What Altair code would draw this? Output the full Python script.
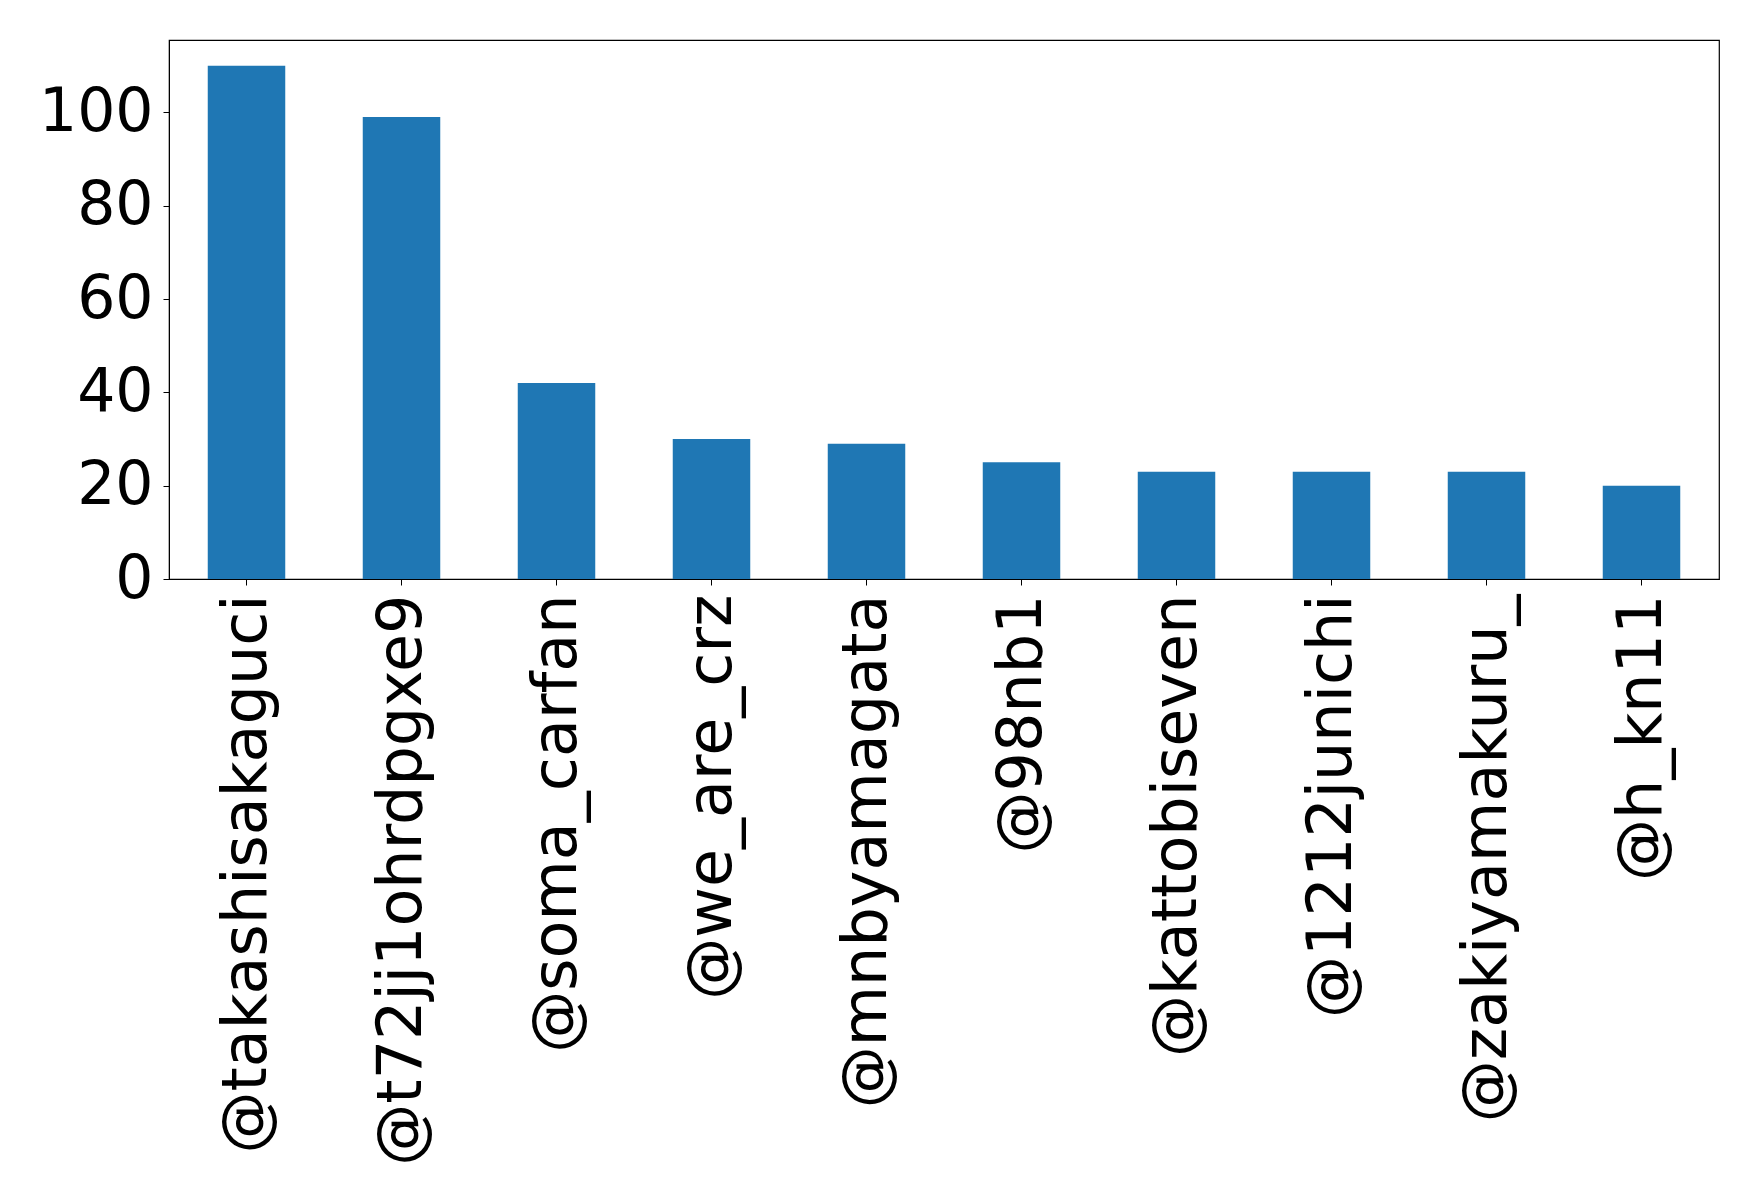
import altair as alt
import pandas as pd

# Accounts and their counts
accounts = [
    "@takashisakaguci", "@t72jj1ohrdpgxe9", "@soma_carfan", "@we_are_crz",
    "@mnbyamagata", "@98nb1", "@kattobiseven", "@1212junichi",
    "@zakiyamakuru_", "@h_kn11",
]
counts = [110, 99, 42, 30, 29, 25, 23, 23, 23, 20]
y_ticks = [0, 20, 40, 60, 80, 100]

df = pd.DataFrame({"account": accounts, "count": counts})

FONT = "DejaVu Sans"

chart = (
    alt.Chart(df)
    .mark_bar(color="#1f77b4")
    .encode(
        x=alt.X(
            "account:N",
            sort=accounts,
            title=None,
            scale=alt.Scale(paddingInner=0.5, paddingOuter=0.25),
            axis=alt.Axis(
                labelAngle=-90,
                labelFont=FONT,
                labelFontSize=62,
                labelColor="black",
                labelPadding=9,
                tickSize=6,
                tickColor="black",
                domainColor="black",
                labelLimit=0,
            ),
        ),
        y=alt.Y(
            "count:Q",
            title=None,
            scale=alt.Scale(domain=[0, 115.5], nice=False),
            axis=alt.Axis(
                values=y_ticks,
                grid=False,
                labelFont=FONT,
                labelFontSize=60,
                labelColor="black",
                labelPadding=10,
                tickSize=6,
                tickColor="black",
                domainColor="black",
            ),
        ),
    )
    .properties(
        width=1550,
        height=539,
        autosize=alt.AutoSizeParams(type="none"),
        padding={"left": 169, "top": 40, "right": 39, "bottom": 625},
        background="white",
    )
    .configure_view(stroke="black", strokeWidth=1.2)
)

chart.save("out.html", embed_options={"renderer": "svg", "actions": False})
